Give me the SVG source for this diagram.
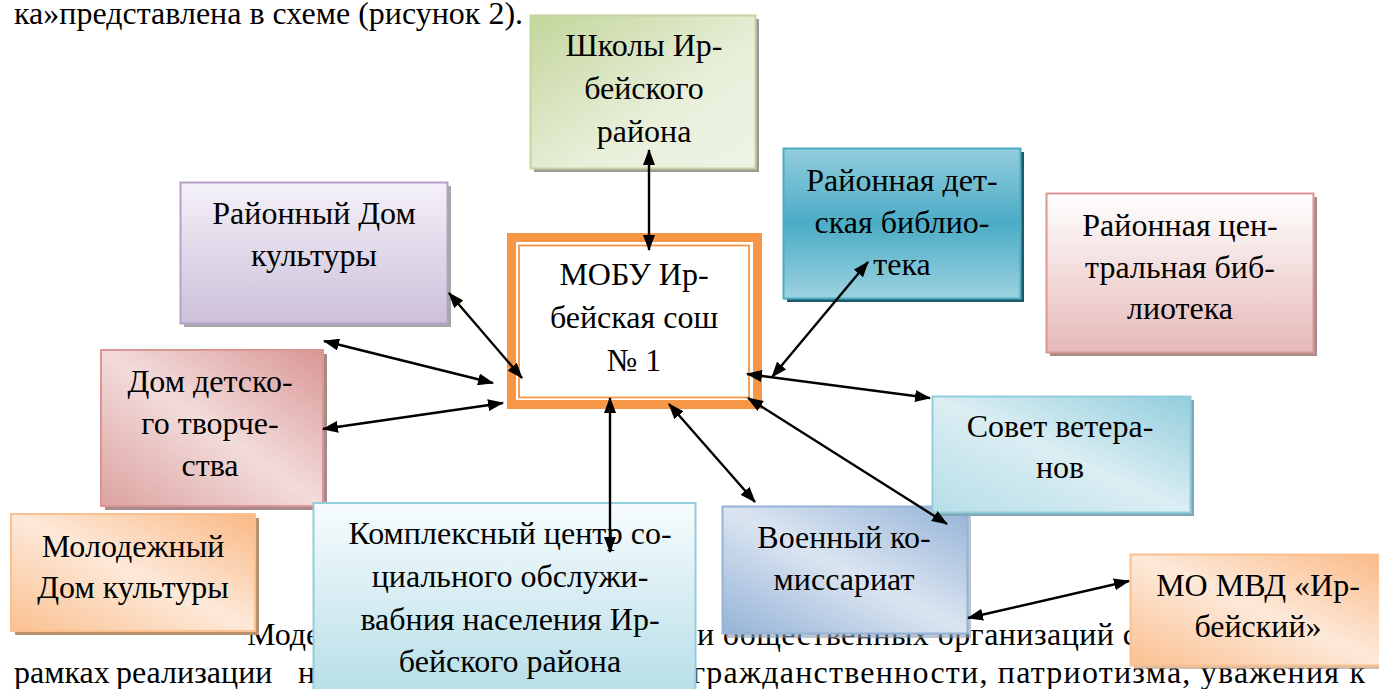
<svg xmlns="http://www.w3.org/2000/svg" width="1379" height="689" viewBox="0 0 1379 689">
<style>
.body{font-family:"Liberation Serif","Times New Roman","DejaVu Serif",serif;font-size:32px;fill:#000}
.t{font-family:"Liberation Serif","Times New Roman","DejaVu Serif",serif;font-size:32px;fill:#000;text-anchor:middle}
.con line{stroke:#000;stroke-width:2.4;marker-start:url(#ah);marker-end:url(#ah)}
</style>
<defs>
<marker id="ah" viewBox="0 0 16 12" refX="15" refY="6" markerWidth="16" markerHeight="12" markerUnits="userSpaceOnUse" orient="auto-start-reverse"><path d="M0,0 L16,6 L0,12 z" fill="#000"/></marker>
<linearGradient id="gGreen" x1="0" y1="0" x2="1" y2="1"><stop offset="0" stop-color="#c3d69b"/><stop offset="0.6" stop-color="#e8efda"/><stop offset="1" stop-color="#eef3e4"/></linearGradient>
<linearGradient id="gPurple" x1="0" y1="0" x2="0" y2="1"><stop offset="0" stop-color="#f4f1f8"/><stop offset="1" stop-color="#ccc0da"/></linearGradient>
<linearGradient id="gPink" x1="1" y1="0" x2="0" y2="1"><stop offset="0" stop-color="#d99694"/><stop offset="0.5" stop-color="#f2dcdb"/><stop offset="1" stop-color="#dca2a0"/></linearGradient>
<linearGradient id="gOrange" x1="1" y1="0" x2="0" y2="1"><stop offset="0" stop-color="#fab884"/><stop offset="0.5" stop-color="#fde9d9"/><stop offset="1" stop-color="#fac090"/></linearGradient>
<linearGradient id="gCyan" x1="0" y1="0" x2="0" y2="1"><stop offset="0" stop-color="#f7fcfd"/><stop offset="1" stop-color="#b7dee8"/></linearGradient>
<linearGradient id="gBlue" x1="1" y1="0" x2="0" y2="1"><stop offset="0" stop-color="#95b3d7"/><stop offset="0.5" stop-color="#dbe5f1"/><stop offset="1" stop-color="#95b3d7"/></linearGradient>
<linearGradient id="gSovet" x1="1" y1="0" x2="0" y2="1"><stop offset="0" stop-color="#92cddc"/><stop offset="0.5" stop-color="#dbeef3"/><stop offset="1" stop-color="#b7dee8"/></linearGradient>
<linearGradient id="gTeal" x1="0" y1="0" x2="0" y2="1"><stop offset="0" stop-color="#93cddd"/><stop offset="0.5" stop-color="#4bacc6"/><stop offset="1" stop-color="#9dd2e0"/></linearGradient>
<linearGradient id="gRose" x1="0" y1="0" x2="0" y2="1"><stop offset="0" stop-color="#ffffff"/><stop offset="1" stop-color="#e6b9b8"/></linearGradient>
</defs>
<rect width="1379" height="689" fill="#fff"/>
<g id="page-text">
<text class="body" x="14" y="24">ка»представлена в схеме (рисунок 2).</text>
<text class="body" x="247" y="645">Моде</text>
<text class="body" x="697" y="645" textLength="440" lengthAdjust="spacing">и общественных организаций с</text>
<text class="body" x="14" y="683">рамках</text>
<text class="body" x="116" y="683">реализации</text>
<text class="body" x="298" y="683">н</text>
<text class="body" x="692" y="683" textLength="673" lengthAdjust="spacing">гражданственности, патриотизма, уважения к</text>
</g>
<g id="node-shkoly">
<rect x="534" y="19" width="225" height="153" fill="#9a9a9a"/>
<rect x="530.5" y="15.5" width="225" height="153" fill="url(#gGreen)" stroke="#c3d69b" stroke-width="2"/>
<text class="t" x="644" y="56">Школы Ир-</text>
<text class="t" x="644" y="99">бейского</text>
<text class="t" x="644" y="142">района</text>
</g>
<g id="node-rdk">
<rect x="184" y="186" width="267" height="141" fill="#a6a6a6"/>
<rect x="180.5" y="182.5" width="267" height="141" fill="url(#gPurple)" stroke="#b3a2c7" stroke-width="2"/>
<text class="t" x="314" y="224">Районный Дом</text>
<text class="t" x="314" y="266">культуры</text>
</g>
<g id="node-ddt">
<rect x="105" y="354" width="222" height="156" fill="#a98a8a"/>
<rect x="101" y="350" width="222" height="156" fill="url(#gPink)" stroke="#d99694" stroke-width="2"/>
<text class="t" x="210" y="392">Дом детско-</text>
<text class="t" x="210" y="434">го творче-</text>
<text class="t" x="210" y="476">ства</text>
</g>
<g id="node-mdk">
<rect x="15" y="518" width="244" height="117" fill="#b8926f"/>
<rect x="11" y="514" width="244" height="117" fill="url(#gOrange)" stroke="#fac090" stroke-width="2"/>
<text class="t" x="133" y="557">Молодежный</text>
<text class="t" x="133" y="598">Дом культуры</text>
</g>
<g id="node-kcson">
<rect x="313.5" y="503" width="382" height="190" fill="url(#gCyan)" stroke="#92cddc" stroke-width="2"/>
<text class="t" x="510" y="544">Комплексный центр со-</text>
<text class="t" x="510" y="587">циального обслужи-</text>
<text class="t" x="510" y="630">вабния населения Ир-</text>
<text class="t" x="510" y="672">бейского района</text>
</g>
<g id="node-vk">
<rect x="726" y="510" width="245" height="128" fill="#8d9cb0" opacity="0.6"/>
<rect x="722.5" y="506.5" width="245" height="127" fill="url(#gBlue)" stroke="#95b3d7" stroke-width="2"/>
<text class="t" x="844" y="548">Военный ко-</text>
<text class="t" x="844" y="590">миссариат</text>
</g>
<g id="node-sovet">
<rect x="936" y="400" width="258" height="116" fill="#7fa9b5"/>
<rect x="932.5" y="396.5" width="258" height="116" fill="url(#gSovet)" stroke="#92cddc" stroke-width="2"/>
<text class="t" x="1060" y="437">Совет ветера-</text>
<text class="t" x="1060" y="478">нов</text>
</g>
<g id="node-mvd">
<rect x="1134" y="558" width="260" height="111" fill="#b8926f" opacity="0.6"/>
<rect x="1130.5" y="554.5" width="260" height="111" fill="url(#gOrange)" stroke="#fac090" stroke-width="2"/>
<text class="t" x="1258" y="596">МО МВД «Ир-</text>
<text class="t" x="1258" y="637">бейский»</text>
</g>
<g id="node-rdb">
<rect x="787" y="152" width="237" height="150" fill="#215968"/>
<rect x="783.5" y="148.5" width="237" height="150" fill="url(#gTeal)" stroke="#4bacc6" stroke-width="2"/>
<text class="t" x="902" y="191">Районная дет-</text>
<text class="t" x="902" y="233">ская библио-</text>
<text class="t" x="902" y="275">тека</text>
</g>
<g id="node-rcb">
<rect x="1050" y="197" width="267" height="159" fill="#a98a8a"/>
<rect x="1046.5" y="193.5" width="267" height="159" fill="url(#gRose)" stroke="#d99694" stroke-width="2"/>
<text class="t" x="1180" y="236">Районная цен-</text>
<text class="t" x="1180" y="278">тральная биб-</text>
<text class="t" x="1180" y="319">лиотека</text>
</g>
<g id="node-mobu">
<rect x="511.5" y="237.5" width="246" height="167" fill="#fff" stroke="#f79646" stroke-width="9"/>
<rect x="519" y="245.5" width="230" height="152" fill="none" stroke="#f79646" stroke-width="1.8"/>
<text class="t" x="634" y="285">МОБУ Ир-</text>
<text class="t" x="634" y="328">бейская сош</text>
<text class="t" x="634" y="371">№ 1</text>
</g>
<g id="connectors" class="con">
<line x1="649" y1="150" x2="649" y2="250"/>
<line x1="449" y1="293" x2="522" y2="378"/>
<line x1="324" y1="341" x2="493" y2="383"/>
<line x1="323" y1="429" x2="503" y2="403"/>
<line x1="610" y1="398" x2="610" y2="552"/>
<line x1="669" y1="404" x2="755" y2="502"/>
<line x1="868" y1="262" x2="772" y2="377"/>
<line x1="747" y1="374" x2="930" y2="398"/>
<line x1="748" y1="398" x2="947" y2="524"/>
<line x1="968" y1="618" x2="1129" y2="581"/>
</g>
</svg>
